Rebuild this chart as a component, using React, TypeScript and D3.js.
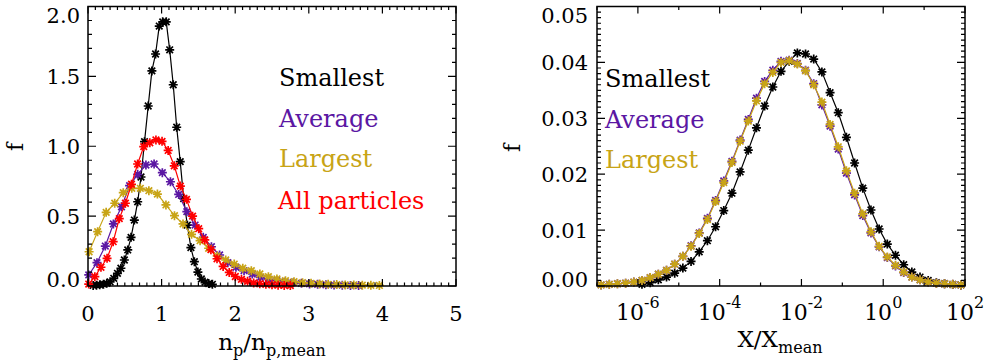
import React from 'react';
import * as d3 from 'd3';

const W = 990;
const H = 363;

// ---------- Left panel data: f vs n_p / n_p,mean ----------
const smallestNpX = [0.07, 0.115, 0.16, 0.21, 0.255, 0.30, 0.35, 0.40, 0.447, 0.494, 0.54, 0.585, 0.63, 0.675, 0.72, 0.768, 0.818, 0.868, 0.918, 0.968, 1.015, 1.063, 1.11, 1.158, 1.205, 1.253, 1.30, 1.35, 1.398, 1.445, 1.493, 1.54, 1.59, 1.64, 1.69];
const smallestNpF = [0.004, 0.006, 0.009, 0.013, 0.019, 0.03, 0.055, 0.091, 0.127, 0.186, 0.258, 0.348, 0.472, 0.603, 0.78, 1.033, 1.288, 1.539, 1.66, 1.86, 1.89, 1.89, 1.69, 1.44, 1.136, 0.89, 0.625, 0.435, 0.275, 0.174, 0.10, 0.05, 0.028, 0.017, 0.012];

const averageNpX = [0.01, 0.122, 0.235, 0.345, 0.455, 0.565, 0.675, 0.787, 0.898, 1.01, 1.12, 1.232, 1.343, 1.455, 1.566, 1.677, 1.788, 1.9, 2.01, 2.12, 2.232, 2.343, 2.455, 2.566, 2.677, 2.788, 2.9, 3.01, 3.12, 3.232, 3.343, 3.455, 3.566, 3.677];
const averageNpF = [0.079, 0.167, 0.286, 0.444, 0.567, 0.718, 0.799, 0.866, 0.873, 0.811, 0.746, 0.655, 0.532, 0.436, 0.348, 0.281, 0.222, 0.167, 0.134, 0.11, 0.086, 0.062, 0.048, 0.038, 0.029, 0.024, 0.019, 0.015, 0.012, 0.009, 0.007, 0.006, 0.004, 0.003];

const largestNpX = [0.015, 0.131, 0.247, 0.363, 0.479, 0.595, 0.711, 0.827, 0.943, 1.059, 1.175, 1.291, 1.407, 1.523, 1.639, 1.755, 1.871, 1.987, 2.103, 2.219, 2.335, 2.451, 2.567, 2.683, 2.799, 2.915, 3.031, 3.147, 3.263, 3.379, 3.495, 3.611, 3.727, 3.843, 3.959];
const largestNpF = [0.245, 0.389, 0.527, 0.592, 0.668, 0.699, 0.699, 0.682, 0.658, 0.58, 0.503, 0.444, 0.37, 0.324, 0.27, 0.215, 0.186, 0.157, 0.127, 0.11, 0.086, 0.067, 0.05, 0.038, 0.031, 0.024, 0.019, 0.015, 0.012, 0.01, 0.008, 0.007, 0.006, 0.005, 0.004];

const allNpX = [0.01, 0.093, 0.176, 0.259, 0.342, 0.425, 0.508, 0.591, 0.674, 0.757, 0.84, 0.923, 1.006, 1.089, 1.172, 1.255, 1.338, 1.421, 1.504, 1.587, 1.67, 1.753, 1.836, 1.919, 2.002, 2.085, 2.168, 2.251, 2.334, 2.417, 2.5, 2.583, 2.666, 2.749];
const allNpF = [0.014, 0.067, 0.134, 0.198, 0.317, 0.482, 0.592, 0.728, 0.873, 0.997, 1.025, 1.045, 1.035, 0.97, 0.86, 0.715, 0.62, 0.50, 0.41, 0.33, 0.26, 0.195, 0.14, 0.097, 0.068, 0.048, 0.034, 0.022, 0.016, 0.012, 0.009, 0.006, 0.004, 0.003];

// ---------- Right panel data: f vs X / X_mean (log10 of X/X_mean) ----------
const smallestLogX = [-5.9, -5.7, -5.5, -5.3, -5.1, -4.9, -4.7, -4.5, -4.3, -4.1, -3.9, -3.7, -3.5, -3.3, -3.1, -2.9, -2.7, -2.5, -2.3, -2.1, -1.9, -1.7, -1.5, -1.3, -1.1, -0.9, -0.7, -0.5, -0.3, -0.1, 0.1, 0.3, 0.5, 0.7, 0.9, 1.1, 1.3, 1.5, 1.7, 1.9];
const smallestXF = [0.0003, 0.0006, 0.0011, 0.0016, 0.0023, 0.0032, 0.0044, 0.0061, 0.0081, 0.0106, 0.0135, 0.0166, 0.0204, 0.0243, 0.0283, 0.0322, 0.0356, 0.0384, 0.0402, 0.0417, 0.0415, 0.0406, 0.0383, 0.0346, 0.0310, 0.0266, 0.0220, 0.0175, 0.0136, 0.0102, 0.0075, 0.0055, 0.0038, 0.0025, 0.0016, 0.0010, 0.0006, 0.0004, 0.00025, 0.0002];

const averageLogX = [-6.9, -6.7, -6.5, -6.3, -6.1, -5.9, -5.7, -5.5, -5.3, -5.1, -4.9, -4.7, -4.5, -4.3, -4.1, -3.9, -3.7, -3.5, -3.3, -3.1, -2.9, -2.7, -2.5, -2.3, -2.1, -1.9, -1.7, -1.5, -1.3, -1.1, -0.9, -0.7, -0.5, -0.3, -0.1, 0.1, 0.3, 0.5, 0.7, 0.9, 1.1, 1.3, 1.5, 1.7, 1.9];
const averageXF = [0.0002, 0.0003, 0.0004, 0.0005, 0.0007, 0.0010, 0.0015, 0.0021, 0.0028, 0.0039, 0.0053, 0.0072, 0.0095, 0.0121, 0.0153, 0.0188, 0.0223, 0.0261, 0.0298, 0.0336, 0.0366, 0.0386, 0.0402, 0.0404, 0.0398, 0.0386, 0.0362, 0.0324, 0.0286, 0.0245, 0.0202, 0.0163, 0.0126, 0.0095, 0.0070, 0.0051, 0.0036, 0.0024, 0.0016, 0.0011, 0.0007, 0.0005, 0.0004, 0.0003, 0.0002];

const largestLogX = [-6.9, -6.7, -6.5, -6.3, -6.1, -5.9, -5.7, -5.5, -5.3, -5.1, -4.9, -4.7, -4.5, -4.3, -4.1, -3.9, -3.7, -3.5, -3.3, -3.1, -2.9, -2.7, -2.5, -2.3, -2.1, -1.9, -1.7, -1.5, -1.3, -1.1, -0.9, -0.7, -0.5, -0.3, -0.1, 0.1, 0.3, 0.5, 0.7, 0.9, 1.1, 1.3, 1.5, 1.7, 1.9];
const largestXF = [0.0002, 0.0003, 0.0004, 0.0005, 0.0007, 0.0010, 0.0015, 0.0021, 0.0028, 0.0039, 0.0053, 0.0071, 0.0094, 0.0119, 0.0151, 0.0185, 0.0221, 0.0259, 0.0295, 0.0331, 0.0362, 0.0382, 0.0400, 0.0403, 0.0397, 0.0385, 0.0360, 0.0329, 0.0289, 0.0249, 0.0206, 0.0166, 0.0129, 0.0097, 0.0071, 0.0052, 0.0037, 0.0025, 0.0016, 0.0011, 0.0007, 0.0005, 0.0004, 0.0003, 0.0002];

// ---------- Axis ticks ----------
const leftXTicks = [0, 1, 2, 3, 4, 5];
const leftXTickLabels = ['0', '1', '2', '3', '4', '5'];
const leftYTicks = [0, 0.5, 1.0, 1.5, 2.0];
const leftYTickLabels = ['0.0', '0.5', '1.0', '1.5', '2.0'];
const rightYTicks = [0, 0.01, 0.02, 0.03, 0.04, 0.05];
const rightYTickLabels = ['0.00', '0.01', '0.02', '0.03', '0.04', '0.05'];
const rightXMajorExp = [-6, -4, -2, 0, 2];
const rightXMinorExp = [-7, -5, -3, -1, 1];

const legendLabels = ['Smallest', 'Average', 'Largest', 'All particles'];

const C_SMALL = '#000000';
const C_AVG = '#5b17a3';
const C_LARGE = '#c8a416';
const C_ALL = '#ff0000';

const FONT = "'DejaVu Serif', serif";

const L = { x0: 88, x1: 456, y0: 286, y1: 6.5 };
const R = { x0: 597, x1: 965, y0: 286, y1: 6.5 };

function Series({ pts, color }: { pts: [number, number][]; color: string }) {
  const line = d3.line()(pts) || '';
  const r = 4.5;
  const d = 3.3;
  const marks = pts
    .map(([px, py]) => `M${px - r},${py}h${2 * r}M${px},${py - r}v${2 * r}M${px - d},${py - d}l${2 * d},${2 * d}M${px - d},${py + d}l${2 * d},${-2 * d}`)
    .join('');
  return (
    <g>
      <path d={line} fill="none" stroke={color} strokeWidth={1.2} />
      <path d={marks} fill="none" stroke={color} strokeWidth={1.7} />
    </g>
  );
}

function Frame({ b, ticksX, ticksY }: { b: typeof L; ticksX: { p: number; len: number }[]; ticksY: { p: number; len: number }[] }) {
  const segs: string[] = [];
  ticksX.forEach(({ p, len }) => {
    segs.push(`M${p},${b.y0}v${-len}`);
    segs.push(`M${p},${b.y1}v${len}`);
  });
  ticksY.forEach(({ p, len }) => {
    segs.push(`M${b.x0},${p}h${len}`);
    segs.push(`M${b.x1},${p}h${-len}`);
  });
  return (
    <g>
      <path d={segs.join('')} stroke="#000" strokeWidth={1.2} fill="none" />
      <rect x={b.x0} y={b.y1} width={b.x1 - b.x0} height={b.y0 - b.y1} fill="none" stroke="#000" strokeWidth={1.5} />
    </g>
  );
}

export default function App() {
  const lx = d3.scaleLinear().domain([0, 5]).range([L.x0, L.x1]);
  const ly = d3.scaleLinear().domain([0, 2]).range([L.y0, L.y1]);
  const rx = d3.scaleLog().domain([1e-7, 1e2]).range([R.x0, R.x1]);
  const ry = d3.scaleLinear().domain([0, 0.05]).range([R.y0, R.y1]);

  const lpts = (xs: number[], ys: number[]) => xs.map((x, i) => [lx(x), ly(ys[i])] as [number, number]);
  const rpts = (xs: number[], ys: number[]) => xs.map((x, i) => [rx(Math.pow(10, x)), ry(ys[i])] as [number, number]);

  const lTicksX = d3.range(0, 51).map((k) => ({ p: lx(k / 10), len: k % 10 === 0 ? 7 : 3.5 }));
  const lTicksY = d3.range(0, 21).map((k) => ({ p: ly(k / 10), len: k % 5 === 0 ? 8 : 4 }));
  const rTicksX = [
    ...rightXMajorExp.map((e) => ({ p: rx(Math.pow(10, e)), len: 7 })),
    ...rightXMinorExp.map((e) => ({ p: rx(Math.pow(10, e)), len: 3.5 })),
  ];
  const rTicksY = d3.range(0, 51).map((k) => ({ p: ry(k / 1000), len: k % 10 === 0 ? 8 : 4 }));

  const clampY = (y: number, b: typeof L) => Math.min(Math.max(y, b.y1 + 9), b.y0 - 7);

  return (
    <svg width={W} height={H} viewBox={`0 0 ${W} ${H}`} style={{ position: 'absolute', left: 0, top: 0, background: '#fff' }} fontFamily={FONT}>
      <rect x={0} y={0} width={W} height={H} fill="#fff" />

      {/* ---------------- Left panel ---------------- */}
      <Series pts={lpts(smallestNpX, smallestNpF)} color={C_SMALL} />
      <Series pts={lpts(averageNpX, averageNpF)} color={C_AVG} />
      <Series pts={lpts(largestNpX, largestNpF)} color={C_LARGE} />
      <Series pts={lpts(allNpX, allNpF)} color={C_ALL} />
      <Frame b={L} ticksX={lTicksX} ticksY={lTicksY} />

      {leftYTicks.map((v, i) => (
        <text key={'lyt' + i} x={L.x0 - 8} y={clampY(ly(v), L) + 7.5} fontSize={21} textAnchor="end">
          {leftYTickLabels[i]}
        </text>
      ))}
      {leftXTicks.map((v, i) => (
        <text key={'lxt' + i} x={lx(v)} y={320.5} fontSize={21} textAnchor="middle">
          {leftXTickLabels[i]}
        </text>
      ))}
      <text transform="translate(23,147) rotate(-90)" fontSize={22} textAnchor="middle">f</text>
      <text x={272} y={350} fontSize={23} textAnchor="middle">
        n<tspan fontSize={16} dy={6}>p</tspan>
        <tspan dy={-6}>/n</tspan>
        <tspan fontSize={16} dy={6}>p,mean</tspan>
      </text>

      <text x={279} y={86} fontSize={24} fill={C_SMALL}>{legendLabels[0]}</text>
      <text x={279} y={127} fontSize={24} fill={C_AVG}>{legendLabels[1]}</text>
      <text x={279} y={167} fontSize={24} fill={C_LARGE}>{legendLabels[2]}</text>
      <text x={278} y={209} fontSize={24} fill={C_ALL}>{legendLabels[3]}</text>

      {/* ---------------- Right panel ---------------- */}
      <Series pts={rpts(smallestLogX, smallestXF)} color={C_SMALL} />
      <Series pts={rpts(averageLogX, averageXF)} color={C_AVG} />
      <Series pts={rpts(largestLogX, largestXF)} color={C_LARGE} />
      <Frame b={R} ticksX={rTicksX} ticksY={rTicksY} />

      {rightYTicks.map((v, i) => (
        <text key={'ryt' + i} x={R.x0 - 9} y={clampY(ry(v), R) + 7.5} fontSize={21} textAnchor="end">
          {rightYTickLabels[i]}
        </text>
      ))}
      {rightXMajorExp.map((e) => (
        <text key={'rxt' + e} x={rx(Math.pow(10, e))} y={320} fontSize={22} textAnchor="middle">
          10<tspan fontSize={16} dy={-12}>{e}</tspan>
        </text>
      ))}
      <text transform="translate(520,148) rotate(-90)" fontSize={22} textAnchor="middle">f</text>
      <text x={780} y={347} fontSize={23} textAnchor="middle">
        X/X<tspan fontSize={16} dy={6}>mean</tspan>
      </text>

      <text x={605} y={87} fontSize={24} fill={C_SMALL}>{legendLabels[0]}</text>
      <text x={605} y={128} fontSize={24} fill={C_AVG}>{legendLabels[1]}</text>
      <text x={605} y={168} fontSize={24} fill={C_LARGE}>{legendLabels[2]}</text>
    </svg>
  );
}
